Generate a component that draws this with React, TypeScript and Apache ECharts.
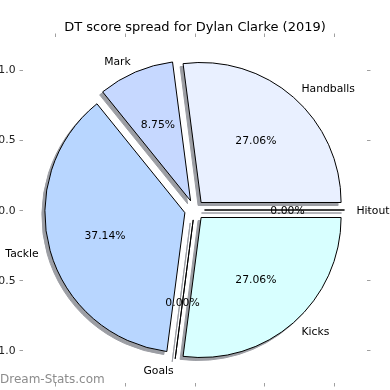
import React, { useEffect, useRef } from "react";
import * as echarts from "echarts";

const TITLE = "DT score spread for Dylan Clarke (2019)";
const categories = ["Hitout", "Handballs", "Mark", "Tackle", "Goals", "Kicks"];
const values = [0, 102, 33, 140, 0, 102];
const sliceColors = ["#dfe8ff", "#e9f0ff", "#c6d8ff", "#b8d6ff", "#cfe8ff", "#d8ffff"];
const tickValues = [-1, -0.5, 0, 0.5, 1];
const WATERMARK = "Dream-Stats.com";

const FONT = "DejaVu Sans";
const CX = 194.5;
const CY = 210;
const R = 140;
const EXPLODE = 10;
const LIM = 1.235;

export default function App() {
  const ref = useRef<HTMLDivElement>(null);
  useEffect(() => {
    if (!ref.current) return;
    const chart = echarts.init(ref.current, undefined, { renderer: "svg" });
    const total = values.reduce((a, b) => a + b, 0);
    const fmtTick = (v: number) => (v < 0 ? "\u2212" : "") + Math.abs(v).toFixed(1);
    const axisCommon = (show: boolean, margin: number) => ({
      type: "value",
      min: -LIM,
      max: LIM,
      axisLine: { show: true, onZero: false, lineStyle: { color: "rgba(0,0,0,0)" } },
      splitLine: { show: false },
      axisTick: {
        show: true,
        customValues: tickValues,
        length: 3.5,
        inside: false,
        lineStyle: { color: "#a0a0a0", width: 1 },
      },
      axisLabel: {
        show,
        customValues: tickValues,
        formatter: fmtTick,
        margin,
        fontSize: 10.8,
        fontFamily: FONT,
        color: "#222",
      },
    });
    const pieBase = {
      type: "pie",
      radius: R,
      clockwise: false,
      startAngle: 0,
      selectedMode: "multiple",
      selectedOffset: EXPLODE,
      avoidLabelOverlap: false,
      silent: true,
      emphasis: { disabled: true },
    };
    const option: any = {
      animation: false,
      title: {
        text: TITLE,
        left: "center",
        top: 15,
        textStyle: { fontSize: 13, fontWeight: "normal", color: "#000", fontFamily: FONT },
      },
      grid: { left: 23, right: 23, top: 37, bottom: 7, containLabel: false, outerBoundsMode: "none" },
      xAxis: [
        { ...axisCommon(true, 7), position: "bottom" },
        { ...axisCommon(false, 7), position: "top" },
      ],
      yAxis: [
        { ...axisCommon(true, 7.5), position: "left" },
        { ...axisCommon(false, 7.5), position: "right" },
      ],
      series: [
        {
          ...pieBase,
          name: "shadow",
          center: [CX - 3, CY + 3],
          z: 1,
          itemStyle: { color: "#9c9ea4", borderColor: "#9c9ea4", borderWidth: 1 },
          label: { show: false },
          labelLine: { show: false },
          data: categories.map((name, i) => ({ name, value: values[i], selected: true })),
        },
        {
          ...pieBase,
          name: "slices",
          center: [CX, CY],
          z: 2,
          itemStyle: { borderColor: "#000", borderWidth: 1 },
          label: {
            show: true,
            position: "outside",
            formatter: "{b}",
            fontSize: 10.8,
            fontFamily: FONT,
            color: "#000",
            distanceToLabelLine: 0,
          },
          labelLine: { show: false, length: 12, length2: 0 },
          data: categories.map((name, i) => ({
            name,
            value: values[i],
            selected: true,
            itemStyle: { color: sliceColors[i] },
          })),
        },
        {
          ...pieBase,
          name: "percent",
          center: [CX, CY],
          radius: [0, 160],
          z: 5,
          itemStyle: { color: "rgba(0,0,0,0)", borderWidth: 0 },
          label: {
            show: true,
            position: "inside",
            formatter: (p: any) => ((p.value / total) * 100).toFixed(2) + "%",
            fontSize: 10.8,
            fontFamily: FONT,
            color: "#000",
          },
          labelLine: { show: false },
          data: categories.map((name, i) => ({ name, value: values[i], selected: true })),
        },
      ],
      graphic: [
        {
          type: "text",
          left: 0,
          top: 373,
          style: { text: WATERMARK, fill: "#8c8c8c", font: `12px "${FONT}"` },
        },
      ],
    };
    chart.setOption(option);
    return () => chart.dispose();
  }, []);
  return <div ref={ref} style={{ width: 390, height: 390, position: "fixed", left: 0, top: 0 }} />;
}
